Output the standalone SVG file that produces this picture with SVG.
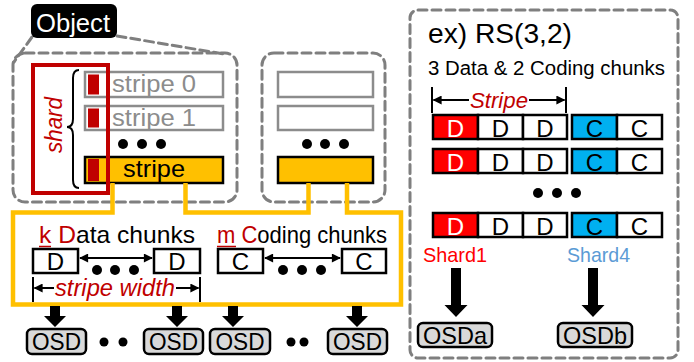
<svg xmlns="http://www.w3.org/2000/svg" width="694" height="362" viewBox="0 0 694 362">
<defs>
<style>
text{font-family:"Liberation Sans",Arial,sans-serif}
.dash{fill:none;stroke:#7f7f7f;stroke-width:3;stroke-dasharray:9 5;stroke-linecap:round}
.gr{fill:#fff;stroke:#8c8c8c;stroke-width:2.5}
.gt{fill:#8c8c8c;font-size:23px}
.bx{fill:#fff;stroke:#000;stroke-width:2.5}
.ye{fill:#ffc000;stroke:#000;stroke-width:2.5}
.osd{fill:#d9d9d9;stroke:#000;stroke-width:2.5}
.t22{font-size:24px;fill:#000}
.red{fill:#c00000}
.thin{stroke:#000;stroke-width:2;fill:none}
</style>
<marker id="ah" viewBox="0 0 10 10" refX="9" refY="5" markerWidth="10" markerHeight="9" markerUnits="userSpaceOnUse" orient="auto-start-reverse">
<path d="M0,0 L10,5 L0,10 z" fill="#000"/>
</marker>
</defs>
<rect width="694" height="362" fill="#fff"/>

<!-- left object callout -->
<g id="object-callout">
<rect class="dash" x="13" y="53" width="224" height="149" rx="12"/>
<line class="dash" x1="32" y1="37" x2="14" y2="62"/>
<line class="dash" x1="117" y1="36" x2="224" y2="54"/>
<rect x="31" y="4" width="86" height="34" rx="6" fill="#000"/>
<text x="36" y="32" font-size="25" fill="#fff" textLength="74" lengthAdjust="spacingAndGlyphs">Object</text>
</g>

<g id="stripes-left">
<rect class="gr" x="85" y="72" width="138" height="25"/>
<rect class="red" x="88" y="74.5" width="11" height="20"/>
<text class="gt" x="112" y="92" textLength="84" lengthAdjust="spacingAndGlyphs">stripe 0</text>
<rect class="gr" x="85" y="106" width="138" height="24"/>
<rect class="red" x="88" y="108.5" width="11" height="19"/>
<text class="gt" x="112" y="126" textLength="84" lengthAdjust="spacingAndGlyphs">stripe 1</text>
<circle cx="123" cy="144" r="5"/><circle cx="142" cy="144" r="5"/><circle cx="161" cy="144" r="5"/>
<rect class="ye" x="85" y="157" width="138" height="26"/>
<rect class="red" x="88" y="159" width="11" height="22"/>
<text class="t22" x="123" y="177" textLength="62" lengthAdjust="spacingAndGlyphs">stripe</text>
</g>

<g id="shard">
<path class="thin" d="M79,70 Q73,70 73,78 V119 Q73,127 67,127 Q73,127 73,135 V180 Q73,188 79,188"/>
<rect x="33" y="65" width="75" height="128" fill="none" stroke="#c00000" stroke-width="4"/>
<text transform="translate(62,125) rotate(-90)" text-anchor="middle" font-size="23" font-style="italic" fill="#c00000" textLength="56" lengthAdjust="spacingAndGlyphs">shard</text>
</g>

<g id="object-2">
<rect class="dash" x="262" y="53" width="123" height="149" rx="12"/>
<rect class="gr" x="278" y="72" width="95" height="25"/>
<rect class="gr" x="278" y="106" width="95" height="24"/>
<circle cx="307" cy="144" r="5"/><circle cx="325" cy="144" r="5"/><circle cx="344" cy="144" r="5"/>
<rect class="ye" x="278" y="157" width="95" height="26"/>
</g>

<g id="connectors">
<path d="M112.5,183 V212.5 H13 V304.5 H401 V212.5 H347 V183 M185.5,183 V212.5 H308.5 V183" fill="none" stroke="#ffc000" stroke-width="4.5"/>
<line class="thin" x1="80" y1="258" x2="152" y2="258" marker-start="url(#ah)" marker-end="url(#ah)"/>
<line class="thin" x1="265" y1="258" x2="340" y2="258" marker-start="url(#ah)" marker-end="url(#ah)"/>
<line class="thin" x1="33" y1="277" x2="33" y2="302"/>
<line class="thin" x1="200" y1="277" x2="200" y2="302"/>
<line class="thin" x1="54" y1="288" x2="34.5" y2="288" marker-end="url(#ah)"/>
<line class="thin" x1="176" y1="288" x2="198.5" y2="288" marker-end="url(#ah)"/>
<path d="M50,306 H60 V316 H66 L55,327 L44,316 H50 Z"/>
<path d="M172,306 H182 V316 H188 L177,327 L166,316 H172 Z"/>
<path d="M228,306 H238 V316 H244 L233,327 L222,316 H228 Z"/>
<path d="M352,306 H362 V316 H368 L357,327 L346,316 H352 Z"/>
<line class="thin" x1="432" y1="87" x2="432" y2="113"/>
<line class="thin" x1="566" y1="87" x2="566" y2="113"/>
<line class="thin" x1="469" y1="100" x2="433.5" y2="100" marker-end="url(#ah)"/>
<line class="thin" x1="529" y1="100" x2="564.5" y2="100" marker-end="url(#ah)"/>
<path d="M451,268 H461 V305 H467.5 L456,317 L444.5,305 H451 Z"/>
<path d="M588,268 H598 V305 H604.5 L593,317 L581.5,305 H588 Z"/>
</g>

<g id="data-chunks">
<text class="t22" x="39" y="243" textLength="156" lengthAdjust="spacingAndGlyphs"><tspan fill="#c00000">k</tspan> <tspan fill="#c00000">D</tspan>ata chunks</text>
<line x1="39" y1="246.5" x2="51" y2="246.5" stroke="#c00000" stroke-width="1.5"/>
<rect class="bx" x="33" y="249" width="45" height="24"/>
<text class="t22" x="55.5" y="270" text-anchor="middle">D</text>
<rect class="bx" x="154" y="249" width="46" height="24"/>
<text class="t22" x="177" y="270" text-anchor="middle">D</text>
<circle cx="97" cy="270" r="5"/><circle cx="115" cy="270" r="5"/><circle cx="134" cy="270" r="5"/>
<text x="115" y="296" text-anchor="middle" font-size="23" font-style="italic" fill="#c00000" textLength="120" lengthAdjust="spacingAndGlyphs">stripe width</text>
</g>

<g id="coding-chunks">
<text class="t22" x="217" y="243" textLength="170" lengthAdjust="spacingAndGlyphs"><tspan fill="#c00000">m</tspan> <tspan fill="#c00000">C</tspan>oding chunks</text>
<line x1="217" y1="246.5" x2="236" y2="246.5" stroke="#c00000" stroke-width="1.5"/>
<rect class="bx" x="218" y="249" width="45" height="24"/>
<text class="t22" x="240.5" y="270" text-anchor="middle">C</text>
<rect class="bx" x="342" y="249" width="44" height="24"/>
<text class="t22" x="364" y="270" text-anchor="middle">C</text>
<circle cx="283" cy="270" r="5"/><circle cx="302" cy="270" r="5"/><circle cx="321" cy="270" r="5"/>
</g>

<g id="osds">
<rect class="osd" x="27" y="329" width="59" height="25" rx="5"/>
<text class="t22" x="56.5" y="350" text-anchor="middle" textLength="49" lengthAdjust="spacingAndGlyphs">OSD</text>
<circle cx="104" cy="342" r="4.5"/><circle cx="123" cy="342" r="4.5"/>
<rect class="osd" x="144" y="329" width="59" height="25" rx="5"/>
<text class="t22" x="173.5" y="350" text-anchor="middle" textLength="49" lengthAdjust="spacingAndGlyphs">OSD</text>
<rect class="osd" x="210" y="329" width="60" height="25" rx="5"/>
<text class="t22" x="240" y="350" text-anchor="middle" textLength="49" lengthAdjust="spacingAndGlyphs">OSD</text>
<circle cx="291" cy="342" r="4.5"/><circle cx="304" cy="342" r="4.5"/>
<rect class="osd" x="328" y="329" width="59" height="25" rx="5"/>
<text class="t22" x="357.5" y="350" text-anchor="middle" textLength="49" lengthAdjust="spacingAndGlyphs">OSD</text>
</g>

<g id="example-rs">
<rect class="dash" x="410" y="10" width="268" height="348" rx="8"/>
<text x="428" y="43" font-size="28" textLength="144" lengthAdjust="spacingAndGlyphs">ex) RS(3,2)</text>
<text x="428" y="75" font-size="20" textLength="237" lengthAdjust="spacingAndGlyphs">3 Data &amp; 2 Coding chunks</text>
<text x="499" y="108" text-anchor="middle" font-size="22" font-style="italic" fill="#c00000" textLength="58" lengthAdjust="spacingAndGlyphs">Stripe</text>
</g>

<g id="rows">
<g id="row1">
<rect x="433" y="115" width="45" height="24" fill="#ff0000" stroke="#000" stroke-width="2.5"/>
<rect class="bx" x="478" y="115" width="45" height="24"/>
<rect class="bx" x="523" y="115" width="44" height="24"/>
<rect x="572" y="115" width="45" height="24" fill="#00b0f0" stroke="#000" stroke-width="2.5"/>
<rect class="bx" x="617" y="115" width="45" height="24"/>
<text x="455.5" y="137" text-anchor="middle" font-size="24" fill="#fff">D</text>
<text class="t22" x="500.5" y="137" text-anchor="middle">D</text>
<text class="t22" x="545" y="137" text-anchor="middle">D</text>
<text class="t22" x="594.5" y="137" text-anchor="middle">C</text>
<text class="t22" x="639.5" y="137" text-anchor="middle">C</text>
</g>
<g id="row2">
<rect x="433" y="149" width="45" height="24" fill="#ff0000" stroke="#000" stroke-width="2.5"/>
<rect class="bx" x="478" y="149" width="45" height="24"/>
<rect class="bx" x="523" y="149" width="44" height="24"/>
<rect x="572" y="149" width="45" height="24" fill="#00b0f0" stroke="#000" stroke-width="2.5"/>
<rect class="bx" x="617" y="149" width="45" height="24"/>
<text x="455.5" y="171" text-anchor="middle" font-size="24" fill="#fff">D</text>
<text class="t22" x="500.5" y="171" text-anchor="middle">D</text>
<text class="t22" x="545" y="171" text-anchor="middle">D</text>
<text class="t22" x="594.5" y="171" text-anchor="middle">C</text>
<text class="t22" x="639.5" y="171" text-anchor="middle">C</text>
</g>
<circle cx="538" cy="193" r="5"/><circle cx="557" cy="193" r="5"/><circle cx="576" cy="193" r="5"/>
<g id="row3">
<rect x="433" y="213" width="45" height="24" fill="#ff0000" stroke="#000" stroke-width="2.5"/>
<rect class="bx" x="478" y="213" width="45" height="24"/>
<rect class="bx" x="523" y="213" width="44" height="24"/>
<rect x="572" y="213" width="45" height="24" fill="#00b0f0" stroke="#000" stroke-width="2.5"/>
<rect class="bx" x="617" y="213" width="45" height="24"/>
<text x="455.5" y="235" text-anchor="middle" font-size="24" fill="#fff">D</text>
<text class="t22" x="500.5" y="235" text-anchor="middle">D</text>
<text class="t22" x="545" y="235" text-anchor="middle">D</text>
<text class="t22" x="594.5" y="235" text-anchor="middle">C</text>
<text class="t22" x="639.5" y="235" text-anchor="middle">C</text>
</g>
</g>

<g id="shard1">
<text x="423" y="262" font-size="21" fill="#ff0000" textLength="64" lengthAdjust="spacingAndGlyphs">Shard1</text>
</g>
<g id="shard4">
<text x="567" y="262" font-size="21" fill="#5b9bd5" textLength="63" lengthAdjust="spacingAndGlyphs">Shard4</text>
</g>
<g id="osda">
<rect class="osd" x="418" y="323" width="74" height="24" rx="5"/>
<text class="t22" x="455" y="344" text-anchor="middle" textLength="64" lengthAdjust="spacingAndGlyphs">OSDa</text>
</g>
<g id="osdb">
<rect class="osd" x="558" y="323" width="74" height="24" rx="5"/>
<text class="t22" x="595" y="344" text-anchor="middle" textLength="64" lengthAdjust="spacingAndGlyphs">OSDb</text>
</g>
</svg>
